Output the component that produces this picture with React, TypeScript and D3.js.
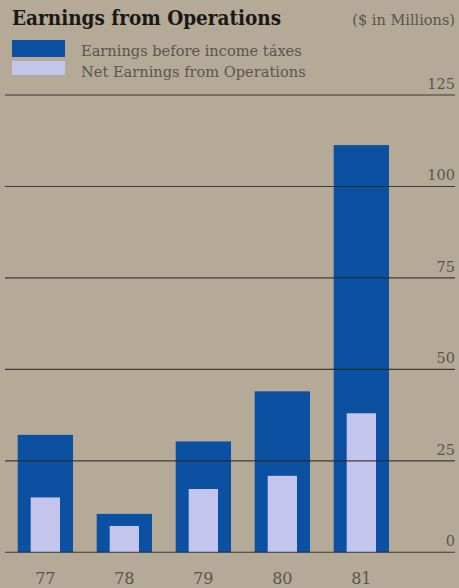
import { useEffect, useRef } from 'react'
import * as d3 from 'd3'

const YEARS = ['77', '78', '79', '80', '81']
const PRETAX = [32.1, 10.5, 30.3, 44.0, 111.3]
const NET = [15.0, 7.2, 17.3, 20.9, 38.0]
const Y_TICKS = [0, 25, 50, 75, 100, 125]

const W = 459
const H = 588
const BG = '#b4aa97'
const DARK = '#0c50a2'
const LIGHT = '#c4c5ed'
const TEXT = '#5a554f'
const SERIF = '"DejaVu Serif", "Liberation Serif", serif'

export default function App() {
  const svgRef = useRef<SVGSVGElement>(null)

  useEffect(() => {
    document.body.style.margin = '0'
    const svg = d3.select(svgRef.current!)
    svg.selectAll('*').remove()

    svg.append('rect').attr('width', W).attr('height', H).attr('fill', BG)

    // ── Scales ───────────────────────────────────────────────
    const x = d3.scaleBand<string>().domain(YEARS).range([5.85, 400.85])
      .paddingInner(0.3).paddingOuter(0.15)
    const y = d3.scaleLinear([0, 125], [552.3, 95])
    const innerW = x.bandwidth() * 0.53

    // ── Title ────────────────────────────────────────────────
    svg.append('text')
      .attr('x', 12).attr('y', 25)
      .attr('font-family', '"DejaVu Serif Condensed", "DejaVu Serif", serif')
      .attr('font-stretch', 'condensed')
      .attr('font-weight', 'bold').attr('font-size', 20.5)
      .attr('fill', '#1b1815')
      .text('Earnings from Operations')

    svg.append('text')
      .attr('x', 455).attr('y', 25).attr('text-anchor', 'end')
      .attr('font-family', SERIF).attr('font-size', 14.5).attr('fill', TEXT)
      .text('($ in Millions)')

    // ── Legend ───────────────────────────────────────────────
    const legend = [
      { label: 'Earnings before income táxes', color: DARK },
      { label: 'Net Earnings from Operations', color: LIGHT },
    ]
    legend.forEach(({ label, color }, i) => {
      svg.append('rect')
        .attr('x', 12).attr('y', 40 + i * 21).attr('width', 53).attr('height', i === 0 ? 17 : 14)
        .attr('fill', color)
      svg.append('text')
        .attr('x', 81).attr('y', 56 + i * 21)
        .attr('font-family', SERIF).attr('font-size', 14.6).attr('fill', TEXT)
        .text(label)
    })

    // ── Bars ─────────────────────────────────────────────────
    svg.append('g').selectAll('rect')
      .data(YEARS)
      .join('rect')
      .attr('x', d => x(d)!)
      .attr('y', (_, i) => y(PRETAX[i]))
      .attr('width', x.bandwidth())
      .attr('height', (_, i) => y(0) - y(PRETAX[i]))
      .attr('fill', DARK)

    svg.append('g').selectAll('rect')
      .data(YEARS)
      .join('rect')
      .attr('x', d => x(d)! + (x.bandwidth() - innerW) / 2)
      .attr('y', (_, i) => y(NET[i]))
      .attr('width', innerW)
      .attr('height', (_, i) => y(0) - y(NET[i]))
      .attr('fill', LIGHT)

    // ── Grid lines + labels (drawn over bars) ────────────────
    const grid = svg.append('g')
    Y_TICKS.forEach(t => {
      grid.append('line')
        .attr('x1', 5).attr('x2', 455)
        .attr('y1', y(t)).attr('y2', y(t))
        .attr('stroke', '#2a2724').attr('stroke-width', 1.1).attr('opacity', 0.85)
      grid.append('text')
        .attr('x', 455).attr('y', y(t) - 6).attr('text-anchor', 'end')
        .attr('font-family', SERIF).attr('font-size', 14.5).attr('fill', TEXT)
        .text(t)
    })

    // ── Category labels ──────────────────────────────────────
    svg.append('g').selectAll('text')
      .data(YEARS)
      .join('text')
      .attr('x', d => x(d)! + x.bandwidth() / 2)
      .attr('y', 584).attr('text-anchor', 'middle')
      .attr('font-family', SERIF).attr('font-size', 16).attr('fill', TEXT)
      .text(d => d)
  }, [])

  return <svg ref={svgRef} width={W} height={H} style={{ display: 'block' }} />
}
